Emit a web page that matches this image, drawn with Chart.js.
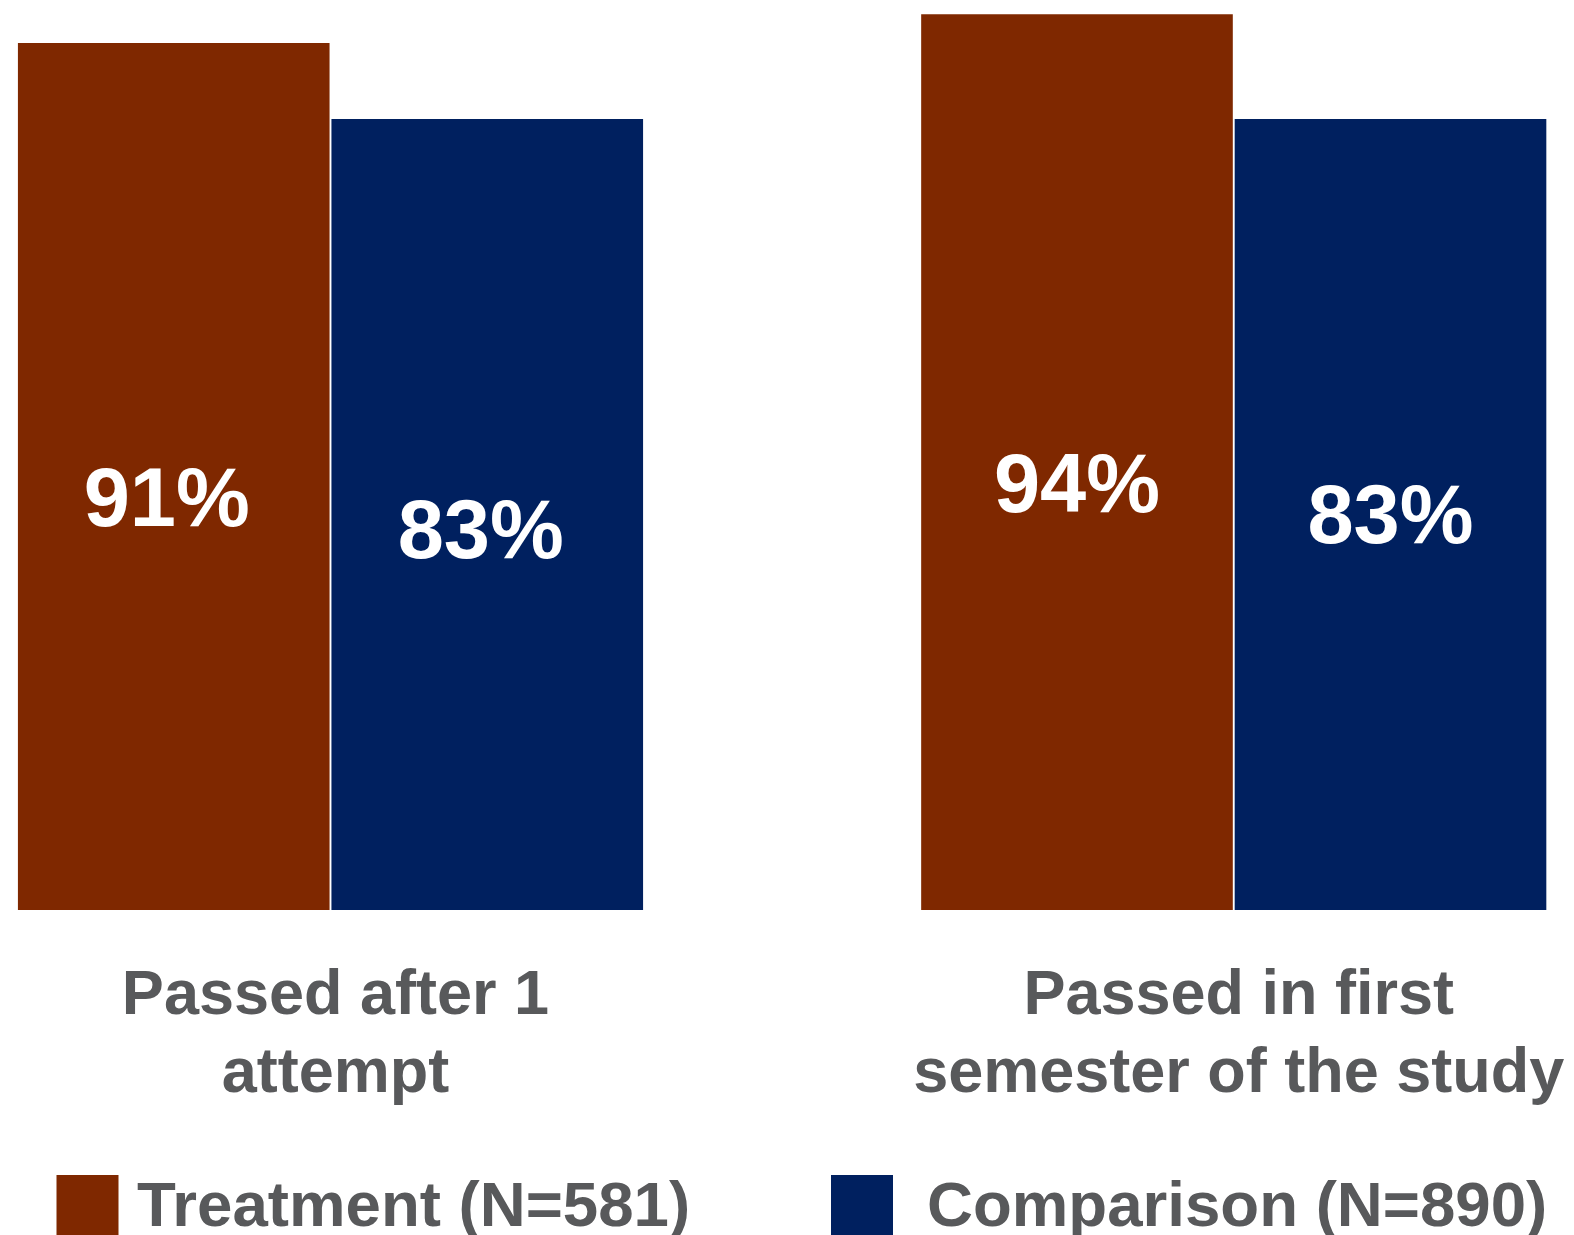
<!DOCTYPE html>
<html>
<head>
<meta charset="utf-8">
<script src="https://cdn.jsdelivr.net/npm/chart.js@4.4.1/dist/chart.umd.min.js"></script>
<style>
    body { margin: 0; background: #ffffff; }
    #wrap { width: 1574px; height: 1235px; position: relative; }
</style>
</head>
<body>
<div id="wrap"><canvas id="pass_chart"></canvas></div>
<script>
// data
const categories = [['Passed after 1', 'attempt'], ['Passed in first', 'semester of the study']];
const treatment = [91, 94];
const comparison = [83, 83];
const seriesNames = ['Treatment (N=581)', 'Comparison (N=890)'];
const seriesColors = ['#7f2800', '#00205f'];

const textGray = '#58595b';
const fontFamily = '"Liberation Sans", Arial, sans-serif';

//white percent labels inside the bars
const valueLabels = {
    id: 'valueLabels',
    afterDatasetsDraw(chart, args, opts) {
        const ctx = chart.ctx;
        ctx.save();
        ctx.fillStyle = '#ffffff';
        ctx.font = 'bold 83px ' + fontFamily;
        ctx.textAlign = 'center';
        ctx.textBaseline = 'middle';
        chart.data.datasets.forEach((ds, d) => {
            const meta = chart.getDatasetMeta(d);
            meta.data.forEach((bar, i) => {
                const shift = opts.shifts[d][i];
                const y = (bar.y + bar.base) / 2 + shift[1];
                ctx.fillText(ds.data[i].y + '%', bar.x + shift[0], y);
            });
        });
        ctx.restore();
    }
};

//legend under the axis labels
const bottomLegend = {
    id: 'bottomLegend',
    afterDraw(chart, args, opts) {
        const ctx = chart.ctx;
        ctx.save();
        ctx.font = 'bold 63.6px ' + fontFamily;
        ctx.textBaseline = 'alphabetic';
        chart.data.datasets.forEach((ds, i) => {
            ctx.fillStyle = ds.backgroundColor;
            ctx.fillRect(opts.boxX[i], opts.boxTop, opts.box, opts.box);
            ctx.fillStyle = textGray;
            ctx.fillText(ds.label, opts.textX[i], opts.baseline);
        });
        ctx.restore();
    }
};

function makeDataset(idx, values) {
    return {
        label: seriesNames[idx],
        data: values.map((v, i) => ({ x: i, y: v })),
        backgroundColor: seriesColors[idx],
        borderWidth: 0,
        categoryPercentage: 0.6942,
        barPercentage: 0.994
    };
}

let passChart;

window.onload = () => {
    const ctx = document.getElementById('pass_chart');
    passChart = new Chart(ctx, {
        type: 'bar',
        data: {
            datasets: [makeDataset(0, treatment), makeDataset(1, comparison)]
        },
        options: {
            responsive: true,
            maintainAspectRatio: false,
            devicePixelRatio: 1,
            animation: false,
            layout: { padding: { top: 0, left: 0, right: 0, bottom: 120.9 } },
            plugins: {
                legend: { display: false },
                tooltip: { enabled: false },
                valueLabels: {
                    shifts: [[[-7, 27], [0, 27]], [[-6.5, 20.7], [0, 5.9]]]
                },
                bottomLegend: {
                    boxX: [56.5, 831], textX: [137, 927], box: 62, boxTop: 1175, baseline: 1226
                }
            },
            scales: {
                x: {
                    type: 'linear',
                    offset: false,
                    min: -0.3659,
                    max: 1.3767,
                    grid: { display: false, drawTicks: false, offset: false },
                    border: { display: false },
                    afterBuildTicks: scale => {
                        scale.ticks = categories.map((c, i) => ({ value: i }));
                    },
                    afterFit: scale => {
                        scale.height = 204.1;
                        scale.paddingLeft = 0;
                        scale.paddingRight = 0;
                    },
                    ticks: {
                        autoSkip: false,
                        maxRotation: 0,
                        minRotation: 0,
                        padding: 48.1,
                        labelOffset: 5,
                        color: textGray,
                        font: { family: fontFamily, size: 63, weight: 'bold', lineHeight: 78 / 63 },
                        callback: value => categories[value]
                    }
                },
                y: {
                    display: false,
                    min: 0,
                    max: 95.5
                }
            }
        },
        plugins: [valueLabels, bottomLegend]
    });
};
</script>
</body>
</html>
